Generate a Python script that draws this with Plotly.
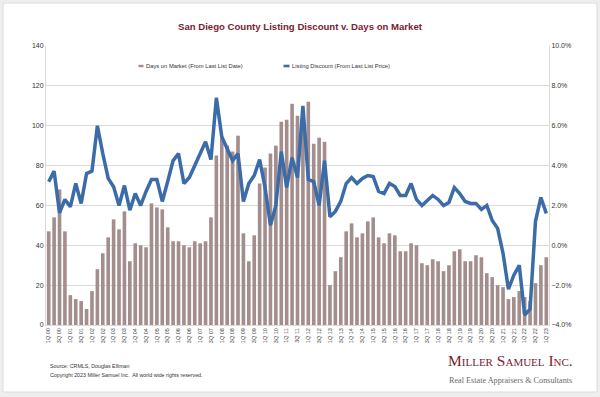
import plotly.graph_objects as go

# ---------------- data ----------------
quarters = [f"{q}Q {y:02d}" for y in range(0, 23) for q in (1, 2, 3, 4)] + ["1Q 23"]

days_on_market = [47, 54, 68, 47, 15, 13, 12, 8, 17, 28,
                  36, 44, 53, 48, 57, 32, 41, 40, 39, 61,
                  59, 58, 49, 42, 42, 40, 39, 42, 41, 42,
                  54, 85, 94, 90, 87, 95, 46, 32, 45, 71,
                  79, 86, 90, 102, 103, 111, 105, 104, 112, 91,
                  94, 92, 20, 27, 34, 47, 51, 44, 46, 52,
                  54, 44, 41, 46, 45, 37, 37, 41, 40, 31,
                  30, 33, 32, 27, 30, 37, 38, 32, 32, 35,
                  34, 26, 24, 20, 19, 13, 14, 17, 14, 12,
                  21, 30, 34]

listing_discount = [3.19, 3.72, 1.63, 2.3, 1.93, 3.1, 2.1, 3.6, 3.72, 6.0,
                    4.6, 3.36, 2.94, 2.0, 3.0, 1.76, 2.6, 2.0, 2.7, 3.3,
                    3.3, 2.2, 3.2, 4.25, 4.6, 3.1, 3.4, 4.0, 4.5, 5.2,
                    4.3, 7.4, 5.45, 4.8, 4.25, 4.6, 2.2, 3.1, 3.5, 4.3,
                    2.9, 1.0, 2.0, 4.7, 2.9, 4.4, 3.4, 7.0, 3.3, 3.2,
                    2.0, 4.25, 1.43, 1.7, 2.2, 3.1, 3.4, 3.1, 3.35, 3.5,
                    3.45, 2.7, 2.6, 3.1, 2.95, 2.5, 2.5, 3.1, 2.3, 2.0,
                    2.27, 2.5, 2.3, 2.0, 2.15, 2.9, 2.6, 2.2, 2.1, 2.1,
                    1.8, 2.0, 1.25, 0.85, -0.4, -2.2, -1.5, -1.0, -3.5, -3.2,
                    1.2, 2.4, 1.6]

tick_labels = quarters[::2]

bar_name = "Days on Market (From Last List Date)"
line_name = "Listing Discount (From Last List Price)"
title_text = "San Diego County Listing Discount v. Days on Market"

# ---------------- figure ----------------
W, H = 600, 397
L, R, T, B = 46, 549, 46, 325   # plot area in pixels


def px(x):
    return (x - L) / (R - L)


def py(y):
    return (B - y) / (B - T)


BAR_COLOR = "#a38d8d"
LINE_COLOR = "#3b6ca7"
MAROON = "#7a2232"
TXT = "#333333"
FONT = "Liberation Sans, Arial, sans-serif"

fig = go.Figure()
fig.add_trace(go.Bar(x=quarters, y=days_on_market, name=bar_name,
                     marker=dict(color=BAR_COLOR, line=dict(width=0)),
                     yaxis="y"))
fig.add_trace(go.Scatter(x=quarters, y=listing_discount, name=line_name,
                         mode="lines", line=dict(color=LINE_COLOR, width=3.5),
                         yaxis="y2"))

fig.update_layout(
    width=W, height=H,
    margin=dict(l=L, r=W - R, t=T, b=H - B, pad=0),
    paper_bgcolor="#efefef",
    plot_bgcolor="white",
    showlegend=False,
    bargap=0.33,
    font=dict(family=FONT, color=TXT),
    xaxis=dict(type="category", tickmode="array", tickvals=tick_labels,
               ticktext=tick_labels, tickangle=-90,
               tickfont=dict(size=5.5, color="#444444"),
               showgrid=False, showline=True, linecolor="#d9d9d9",
               ticks="", ticklen=0, range=[-0.5, len(quarters) - 0.5]),
    yaxis=dict(range=[0, 140], dtick=20, showgrid=True, gridcolor="#d9d9d9",
               gridwidth=1, zeroline=False, showline=True,
               linecolor="#d9d9d9", tickfont=dict(size=7, color=TXT),
               ticks=""),
    yaxis2=dict(range=[-4, 10], dtick=2, overlaying="y", side="right",
                showgrid=False, zeroline=False, showline=True,
                linecolor="#d9d9d9", tickformat=".1f", ticksuffix="%",
                tickfont=dict(size=7, color=TXT), ticks=""),
)

shapes = [
    # white panel with frame
    dict(type="rect", xref="paper", yref="paper", layer="below",
         x0=px(3), x1=px(597), y0=py(392), y1=py(3),
         fillcolor="white", line=dict(color="#dcdcdc", width=1)),
    # legend markers
    dict(type="rect", xref="paper", yref="paper",
         x0=px(138.5), x1=px(143.5), y0=py(67.2), y1=py(64.8),
         fillcolor=BAR_COLOR, line=dict(width=0)),
    dict(type="rect", xref="paper", yref="paper",
         x0=px(283.5), x1=px(289.5), y0=py(67.3), y1=py(64.7),
         fillcolor=LINE_COLOR, line=dict(width=0)),
]
fig.update_layout(shapes=shapes)

ann = [
    dict(text=f"<b>{title_text}</b>", x=px(300), y=py(27), xref="paper",
         yref="paper", xanchor="center", yanchor="middle", showarrow=False,
         font=dict(size=9.6, color=MAROON, family=FONT)),
    dict(text=bar_name, x=px(144), y=py(66), xref="paper", yref="paper",
         xanchor="left", yanchor="middle", showarrow=False,
         font=dict(size=5.8, color=TXT, family=FONT)),
    dict(text=line_name, x=px(290), y=py(66), xref="paper", yref="paper",
         xanchor="left", yanchor="middle", showarrow=False,
         font=dict(size=5.8, color=TXT, family=FONT)),
    dict(text="Source: CRMLS, Douglas Elliman", x=px(48), y=py(366),
         xref="paper", yref="paper", xanchor="left", yanchor="middle",
         showarrow=False, font=dict(size=5.3, color=TXT, family=FONT)),
    dict(text="Copyright 2023 Miller Samuel Inc.  All world wide rights reserved.",
         x=px(48), y=py(375), xref="paper", yref="paper", xanchor="left",
         yanchor="middle", showarrow=False,
         font=dict(size=5.3, color=TXT, family=FONT)),
    dict(text="Miller Samuel Inc.", x=px(510), y=py(360), xref="paper",
         yref="paper", xanchor="center", yanchor="middle", showarrow=False,
         font=dict(size=15.5, color=MAROON, family="Liberation Serif, serif",
                   variant="small-caps")),
    dict(text="Real Estate Appraisers &amp; Consultants", x=px(510), y=py(380),
         xref="paper", yref="paper", xanchor="center", yanchor="middle",
         showarrow=False,
         font=dict(size=8.2, color="#6a6a6a", family="Liberation Serif, serif")),
]
fig.update_layout(annotations=ann)

fig.write_html("out.html",
               config={"displayModeBar": False},
               post_script="document.body.style.margin='0';"
                           "document.body.style.padding='0';")
